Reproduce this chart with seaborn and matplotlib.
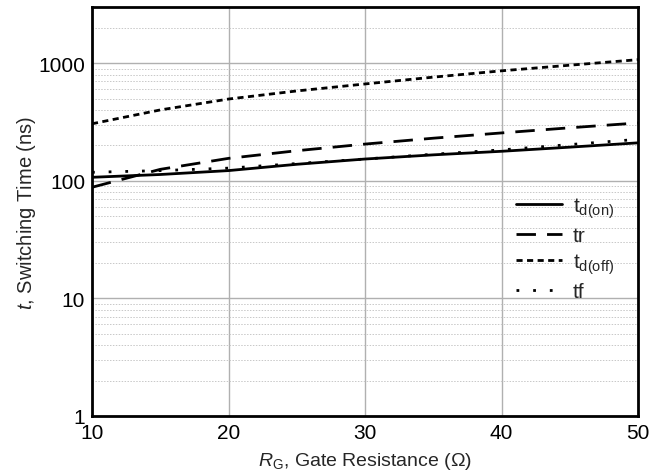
import matplotlib
matplotlib.use("Agg")
import matplotlib.pyplot as plt
import seaborn as sns
import pandas as pd
import numpy as np
from matplotlib.ticker import LogLocator, NullFormatter

rg = [10, 15, 20, 25, 30, 35, 40, 45, 50]
td_on = [107, 113, 122, 138, 153, 166, 178, 193, 210]
tr = [88, 125, 155, 180, 205, 230, 255, 282, 310]
td_off = [305, 400, 495, 580, 665, 760, 860, 960, 1070]
tf = [118, 122, 128, 140, 153, 168, 183, 203, 225]

labels = [r"t$_{\mathregular{d(on)}}$", "tr", r"t$_{\mathregular{d(off)}}$", "tf"]
series = [td_on, tr, td_off, tf]

rows = []
for lab, vals in zip(labels, series):
    for x, v in zip(rg, vals):
        rows.append({"RG": x, "t": v, "series": lab})
df = pd.DataFrame(rows)

sns.set_theme(style="white")
plt.rcParams['font.family'] = ['Liberation Sans', 'DejaVu Sans']
plt.rcParams['mathtext.fontset'] = 'custom'
plt.rcParams['mathtext.rm'] = 'Liberation Sans'
plt.rcParams['mathtext.it'] = 'Liberation Sans:italic'

fig = plt.figure(figsize=(6.67, 4.77), dpi=100)
ax = fig.add_axes([92/667, 1 - 417/477, (638-92)/667, (417-8)/477])

dashes = {labels[0]: "", labels[1]: (7, 4), labels[2]: (2.2, 1.6), labels[3]: (1, 5)}
sns.lineplot(data=df, x="RG", y="t", hue="series", style="series",
             palette=["black"] * 4, dashes=dashes, linewidth=2, ax=ax)

ax.set_yscale("log")
ax.set_xlim(10, 50)
ax.set_ylim(1, 3000)
ax.set_xticks([10, 20, 30, 40, 50])
ax.set_yticks([1, 10, 100, 1000])
ax.set_yticklabels(["1", "10", "100", "1000"])
ax.yaxis.set_minor_locator(LogLocator(base=10, subs=np.arange(2, 10)))
ax.yaxis.set_minor_formatter(NullFormatter())
ax.grid(True, which="major", axis="both", color="#b0b0b0", linewidth=1)
ax.grid(True, which="minor", axis="y", color="#c8c8c8", linewidth=0.7, linestyle=(0, (1.5, 1.5)))
ax.tick_params(axis="both", which="both", length=0, labelsize=15, colors="black", pad=5)
for s in ax.spines.values():
    s.set_color("black")
    s.set_linewidth(2)

ax.set_xlabel(r"$\mathit{R}_{\mathregular{G}}$, Gate Resistance (Ω)", fontsize=14, labelpad=6)
ax.set_ylabel(r"$\mathit{t}$, Switching Time (ns)", fontsize=14.5, labelpad=0)

leg = ax.legend(loc="center right", bbox_to_anchor=(0.99, 0.41), frameon=False,
                fontsize=15, handlelength=2.2, labelspacing=0.3, title=None,
                handletextpad=0.5)
for h in leg.get_lines():
    h.set_linewidth(2)

fig.savefig("out.png", dpi=100)
